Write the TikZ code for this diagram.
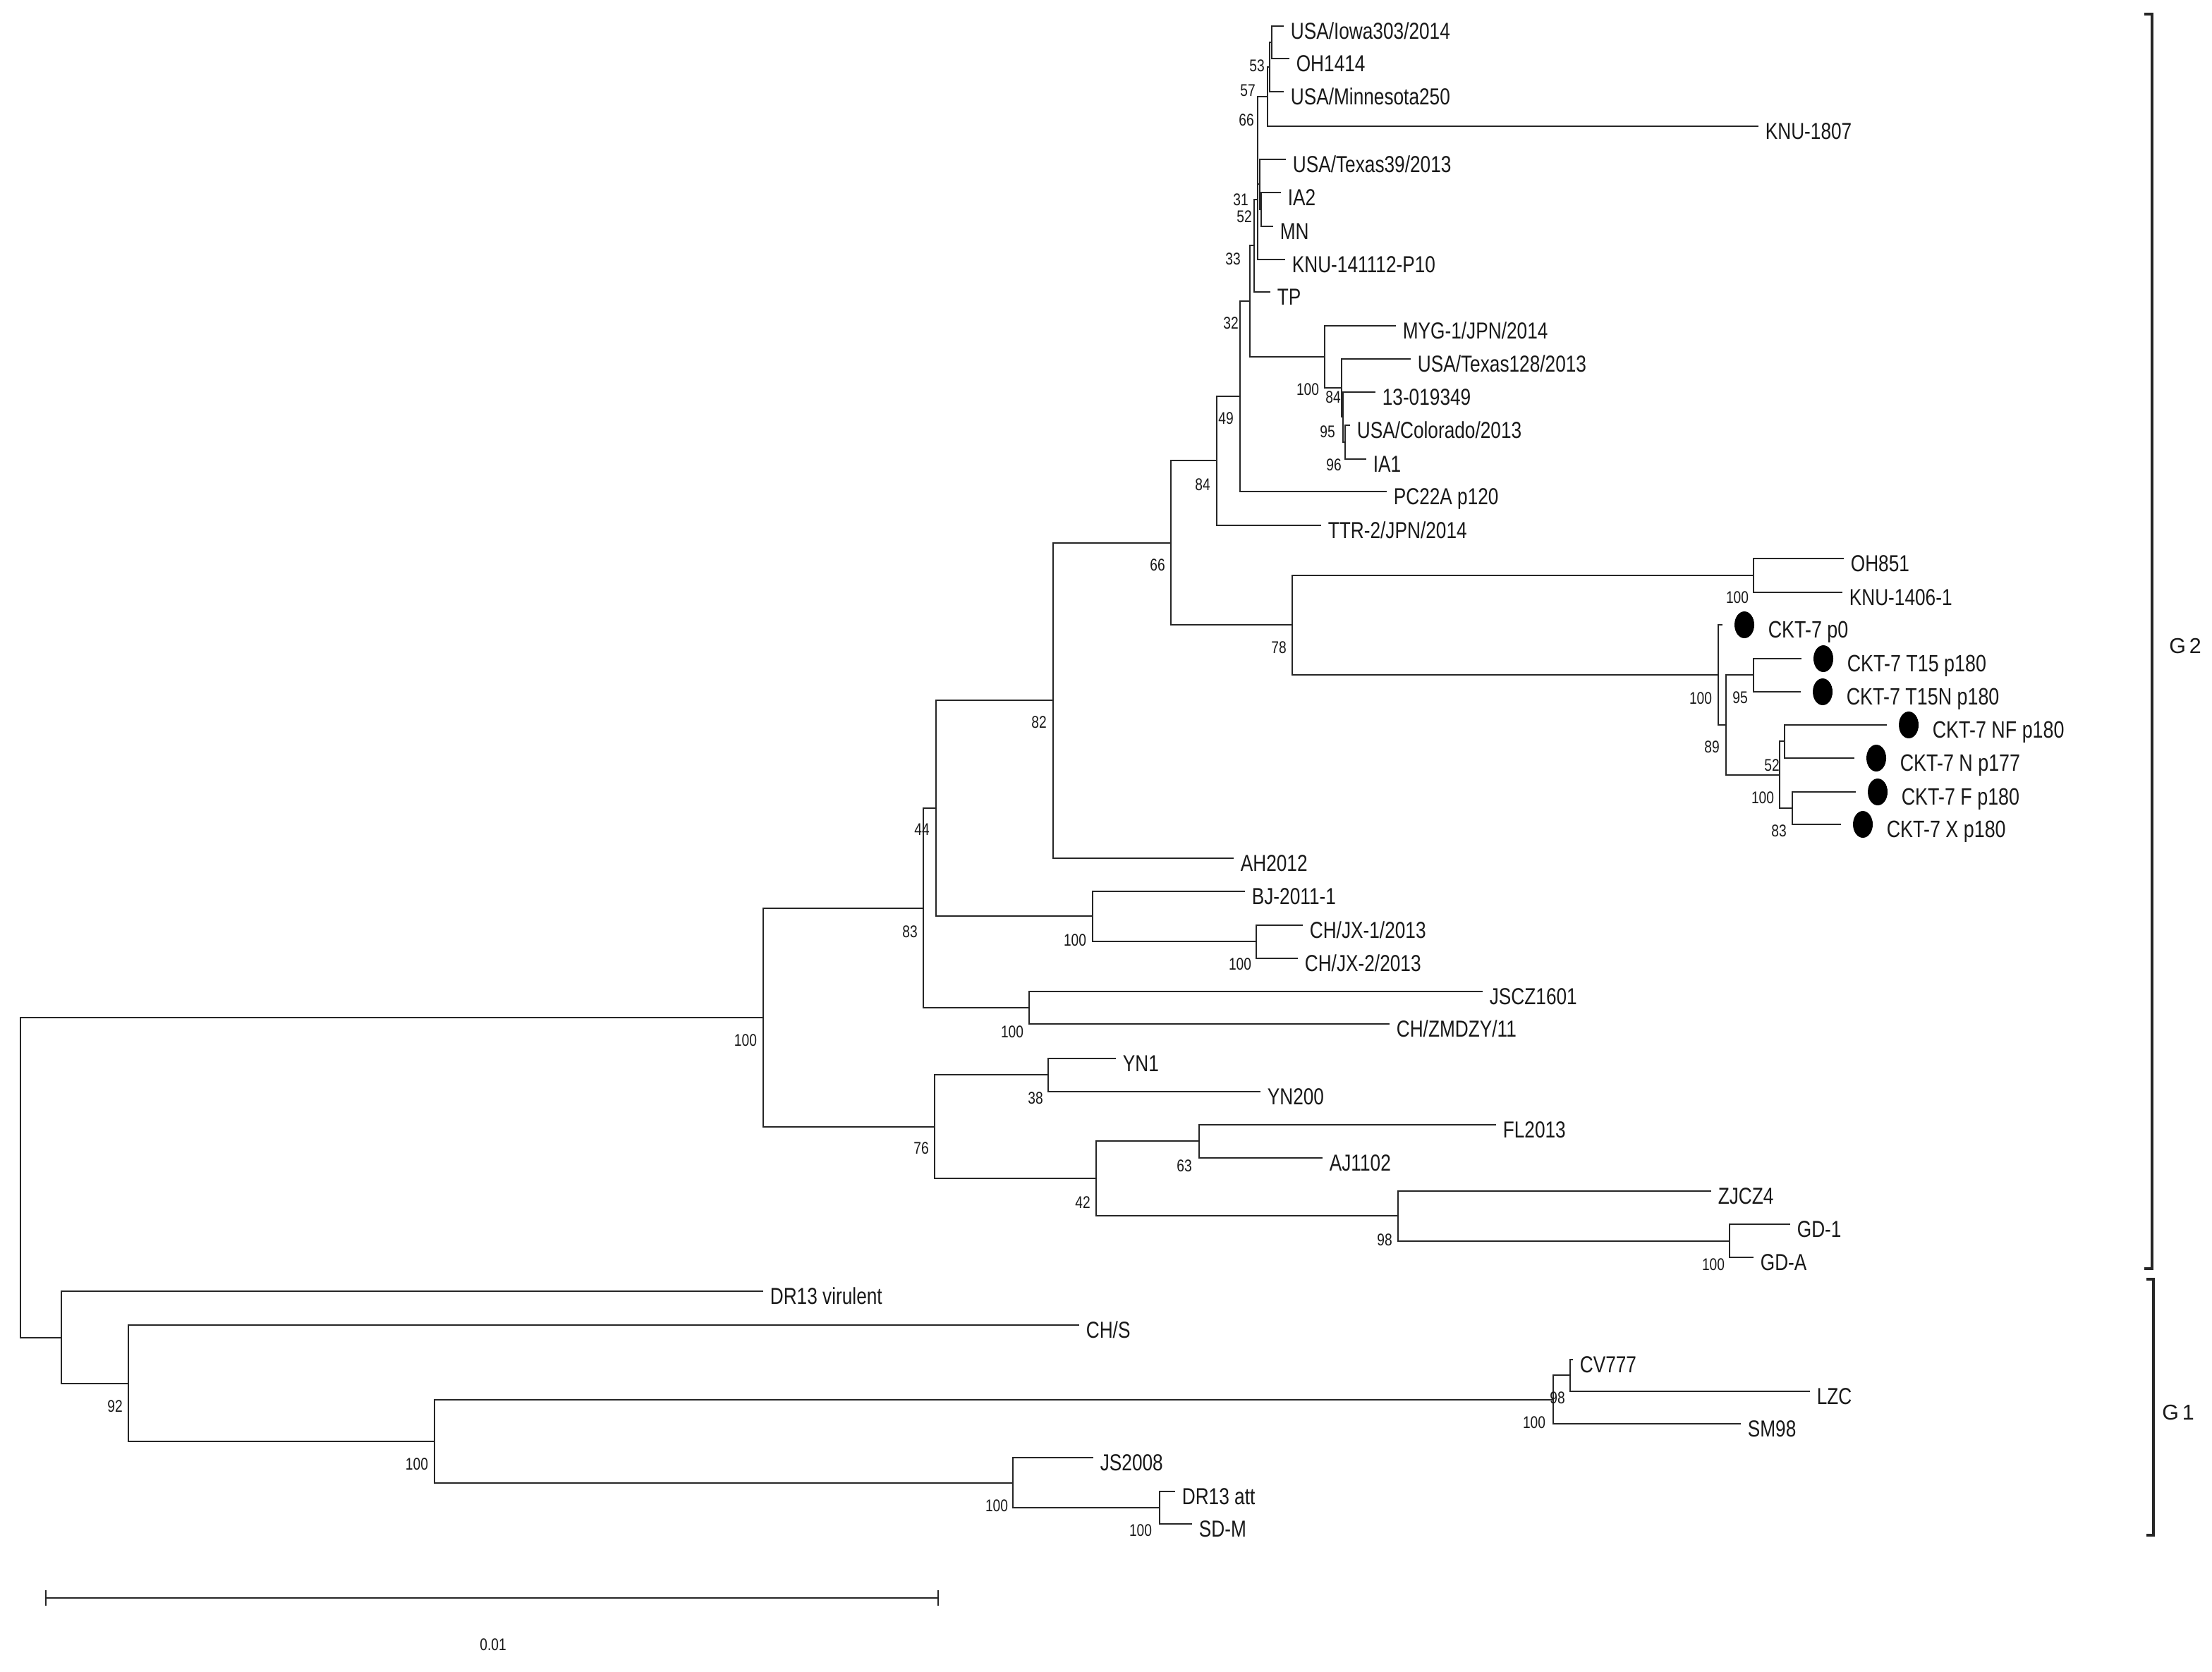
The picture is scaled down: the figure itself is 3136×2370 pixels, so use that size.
\documentclass[tikz,border=0pt]{standalone}
\usepackage{fontspec}
\setmainfont{Liberation Sans}
\newfontfamily\leaffont{Liberation Sans}[FakeStretch=0.8]
\newfontfamily\cktfont{Liberation Sans}[FakeStretch=0.8]
\newfontfamily\bootfont{Liberation Sans}[FakeStretch=0.8]
\usetikzlibrary{shapes.geometric}
\tikzset{
  branch/.style={line width=0.7pt, black!85},
  leaflab/.style={font=\leaffont\fontsize{8.2}{10}\selectfont, anchor=base west, inner sep=0pt, text=black!90},
  cktlab/.style={font=\cktfont\fontsize{8.4}{10}\selectfont, anchor=base west, inner sep=0pt, text=black!90},
  boot/.style={font=\bootfont\fontsize{6}{7}\selectfont, inner sep=0pt, text=black!90},
  cktdot/.style={ellipse, fill=black, draw=none, minimum width=7pt, minimum height=9.5pt, inner sep=0pt},
  brk/.style={line width=0.8pt, black!85},
  grp/.style={font=\fontsize{7.6}{9}\selectfont, inner sep=0pt, text=black!90},
}
% leaf: name, tip x, tip y, text
\newcommand\leaf[4]{%
  \coordinate (#1) at (#2,#3);
  \node[leaflab] (#1-l) at ([shift={(9,18)}]#1) {#4};}
% CKT leaf with dot
\newcommand\cleaf[4]{%
  \coordinate (#1) at (#2,#3);
  \node[cktdot] (#1-d) at ([shift={(31,0)}]#1) {};
  \node[cktlab] (#1-l) at ([shift={(64,18)}]#1) {#4};}
% internal node: name, x, entry y, child1, child2
\newcommand\inode[5]{%
  \coordinate (#1) at (#2,#3);
  \draw[branch] (#1) |- (#4);
  \draw[branch] (#1) |- (#5);}
\begin{document}
\begin{tikzpicture}[x=0.25pt, y=-0.25pt]
\useasboundingbox (0,0) rectangle (3136,2370);
\fill[white] (0,0) rectangle (3136,2370);

% ---------- leaves ----------
\leaf{Iowa}{1820}{37}{USA/Iowa303/2014}
\leaf{OH1414}{1828}{83}{OH1414}
\leaf{Minn}{1820}{130}{USA/Minnesota250}
\leaf{KNU1807}{2493}{179}{KNU-1807}
\leaf{Tex39}{1823}{226}{USA/Texas39/2013}
\leaf{IA2}{1816}{273}{IA2}
\leaf{MN}{1805}{321}{MN}
\leaf{KNU141112}{1822}{368}{KNU-141112-P10}
\leaf{TP}{1801}{414}{TP}
\leaf{MYG}{1979}{462}{MYG-1/JPN/2014}
\leaf{Tex128}{2000}{509}{USA/Texas128/2013}
\leaf{S13}{1950}{556}{13-019349}
\leaf{Colo}{1914}{603}{USA/Colorado/2013}
\leaf{IA1}{1937}{651}{IA1}
\leaf{PC22A}{1966}{697}{PC22A p120}
\leaf{TTR}{1873}{745}{TTR-2/JPN/2014}
\leaf{OH851}{2614}{792}{OH851}
\leaf{KNU1406}{2612}{840}{KNU-1406-1}
\cleaf{Cp0}{2442}{886}{CKT-7 p0}
\cleaf{CT15}{2554}{934}{CKT-7 T15 p180}
\cleaf{CT15N}{2553}{981}{CKT-7 T15N p180}
\cleaf{CNF}{2675}{1028}{CKT-7 NF p180}
\cleaf{CN}{2629}{1075}{CKT-7 N p177}
\cleaf{CF}{2631}{1123}{CKT-7 F p180}
\cleaf{CX}{2610}{1169}{CKT-7 X p180}
\leaf{AH}{1749}{1217}{AH2012}
\leaf{BJ}{1765}{1264}{BJ-2011-1}
\leaf{JX1}{1847}{1312}{CH/JX-1/2013}
\leaf{JX2}{1840}{1359}{CH/JX-2/2013}
\leaf{JSCZ}{2102}{1406}{JSCZ1601}
\leaf{ZMDZY}{1970}{1452}{CH/ZMDZY/11}
\leaf{YN1}{1582}{1501}{YN1}
\leaf{YN200}{1787}{1548}{YN200}
\leaf{FL}{2121}{1595}{FL2013}
\leaf{AJ}{1875}{1642}{AJ1102}
\leaf{ZJ}{2426}{1689}{ZJCZ4}
\leaf{GD1}{2538}{1736}{GD-1}
\leaf{GDA}{2486}{1783}{GD-A}
\leaf{DRv}{1082}{1831}{DR13 virulent}
\leaf{CHS}{1530}{1879}{CH/S}
\leaf{CV}{2230}{1928}{CV777}
\leaf{LZC}{2566}{1973}{LZC}
\leaf{SM}{2468}{2019}{SM98}
\leaf{JS8}{1550}{2067}{JS2008}
\leaf{DRa}{1666}{2115}{DR13 att}
\leaf{SDM}{1690}{2161}{SD-M}

% ---------- internal nodes ----------
\inode{n53}{1803}{60}{Iowa}{OH1414}
\inode{n57}{1800}{95}{n53}{Minn}
\inode{n66t}{1797}{137}{n57}{KNU1807}
\inode{n52t}{1788}{297}{IA2}{MN}
\inode{n31}{1786}{261}{Tex39}{n52t}
\inode{nU}{1783}{199}{n66t}{n31}
\inode{nV}{1783}{283}{nU}{KNU141112}
\inode{n33}{1778}{348}{nV}{TP}
\inode{n96m}{1907}{627}{Colo}{IA1}
\inode{n95m}{1904}{591}{S13}{n96m}
\inode{n84m}{1902}{550}{Tex128}{n95m}
\inode{n100m}{1878}{506}{MYG}{n84m}
\inode{n32}{1772}{427}{n33}{n100m}
\inode{n49}{1758}{562}{n32}{PC22A}
\inode{n84}{1725}{653}{n49}{TTR}
\inode{nOH}{2486}{816}{OH851}{KNU1406}
\inode{n95c}{2486}{957}{CT15}{CT15N}
\inode{n52c}{2530}{1051}{CNF}{CN}
\inode{n83c}{2541}{1146}{CF}{CX}
\inode{n100c2}{2523}{1099}{n52c}{n83c}
\inode{n89}{2447}{1028}{n95c}{n100c2}
\inode{n100c}{2436}{957}{Cp0}{n89}
\inode{n78}{1832}{886}{nOH}{n100c}
\inode{n66}{1660}{770}{n84}{n78}
\inode{n82}{1493}{993}{n66}{AH}
\inode{nJX}{1781}{1335}{JX1}{JX2}
\inode{nBJ}{1549}{1299}{BJ}{nJX}
\inode{n44}{1327}{1146}{n82}{nBJ}
\inode{nJS}{1459}{1429}{JSCZ}{ZMDZY}
\inode{n83}{1309}{1288}{n44}{nJS}
\inode{nYN}{1486}{1524}{YN1}{YN200}
\inode{n63}{1700}{1618}{FL}{AJ}
\inode{nGD}{2452}{1760}{GD1}{GDA}
\inode{n98}{1982}{1724}{ZJ}{nGD}
\inode{n42}{1554}{1671}{n63}{n98}
\inode{n76}{1325}{1598}{nYN}{n42}
\inode{nG2}{1082}{1443}{n83}{n76}
\inode{n98g}{2226}{1950}{CV}{LZC}
\inode{nCV}{2202}{1985}{n98g}{SM}
\inode{nDR}{1644}{2138}{DRa}{SDM}
\inode{nJS8}{1436}{2103}{JS8}{nDR}
\inode{nG1}{616}{2044}{nCV}{nJS8}
\inode{n92}{182}{1962}{CHS}{nG1}
\inode{n41}{87}{1897}{DRv}{n92}
\inode{root}{29}{1670}{nG2}{n41}

% ---------- bootstrap values ----------
\node[boot] (b53) at (1782,93) {53};
\node[boot] (b57) at (1769,128) {57};
\node[boot] (b66t) at (1767,170) {66};
\node[boot] (b31) at (1759,283) {31};
\node[boot] (b52t) at (1764,307) {52};
\node[boot] (b33) at (1748,367) {33};
\node[boot] (b32) at (1745,458) {32};
\node[boot] (b49) at (1738,593) {49};
\node[boot] (b84) at (1705,687) {84};
\node[boot] (b100m) at (1854,552) {100};
\node[boot] (b84m) at (1890,563) {84};
\node[boot] (b95m) at (1882,612) {95};
\node[boot] (b96m) at (1891,659) {96};
\node[boot] (b66) at (1641,801) {66};
\node[boot] (b78) at (1813,918) {78};
\node[boot] (bOH) at (2463,847) {100};
\node[boot] (b100c) at (2411,990) {100};
\node[boot] (b95c) at (2467,989) {95};
\node[boot] (b89) at (2427,1059) {89};
\node[boot] (b52c) at (2512,1085) {52};
\node[boot] (b100c2) at (2499,1131) {100};
\node[boot] (b83c) at (2522,1178) {83};
\node[boot] (b82) at (1473,1024) {82};
\node[boot] (b44) at (1307,1176) {44};
\node[boot] (b83) at (1290,1321) {83};
\node[boot] (bBJ) at (1524,1333) {100};
\node[boot] (bJX) at (1758,1367) {100};
\node[boot] (bJS) at (1435,1463) {100};
\node[boot] (bG2) at (1057,1475) {100};
\node[boot] (b38) at (1468,1557) {38};
\node[boot] (b76) at (1306,1628) {76};
\node[boot] (b63) at (1679,1653) {63};
\node[boot] (b42) at (1535,1705) {42};
\node[boot] (b98) at (1963,1758) {98};
\node[boot] (bGD) at (2429,1793) {100};
\node[boot] (b92) at (163,1994) {92};
\node[boot] (bG1) at (591,2076) {100};
\node[boot] (b98g) at (2208,1982) {98};
\node[boot] (bCV) at (2175,2017) {100};
\node[boot] (bJS8) at (1413,2135) {100};
\node[boot] (bDR) at (1617,2170) {100};

% ---------- group brackets ----------
\coordinate (g2t) at (3040,20);
\coordinate (g2b) at (3040,1799);
\draw[brk] (g2t) -- ++(11,0) -- ++(0,1779) -- (g2b);
\node[grp] (G2) at (3098,916) {G\kern1.2pt 2};
\coordinate (g1t) at (3043,1814);
\coordinate (g1b) at (3043,2177);
\draw[brk] (g1t) -- ++(10,0) -- ++(0,363) -- (g1b);
\node[grp] (G1) at (3088,2003) {G\kern1.2pt 1};

% ---------- scale bar ----------
\coordinate (sbl) at (65,2266);
\coordinate (sbr) at (1330,2266);
\draw[branch] (sbl) -- (sbr);
\draw[branch] ([yshift=2.8pt]sbl) -- ([yshift=-2.8pt]sbl);
\draw[branch] ([yshift=2.8pt]sbr) -- ([yshift=-2.8pt]sbr);
\node[boot] (sb) at (699,2332) {0.01};
\end{tikzpicture}
\end{document}
